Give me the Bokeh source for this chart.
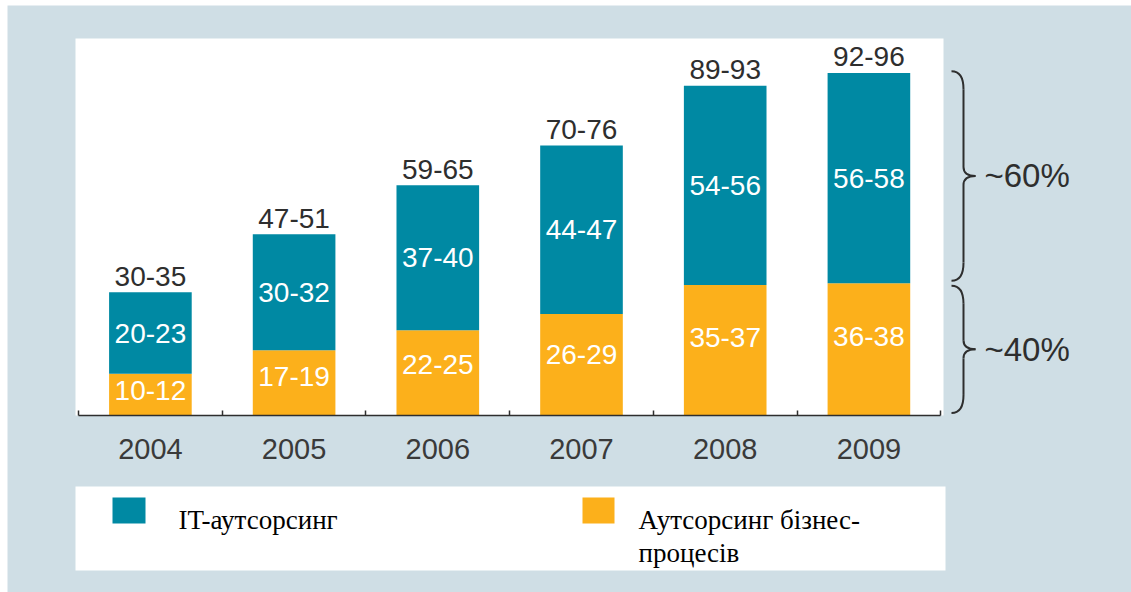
from bokeh.plotting import figure
from bokeh.models import Range1d, LinearAxis, FixedTicker, ColumnDataSource, Spacer
from bokeh.layouts import column, row
from bokeh.core.properties import value
from bokeh.embed import file_html
from bokeh.resources import INLINE

# ---------------- data ----------------
years = ["2004", "2005", "2006", "2007", "2008", "2009"]
bpo = [11.5, 18, 23.5, 28, 36, 36.5]        # Аутсорсинг бізнес-процесів
it = [22.5, 32, 40, 46.5, 55, 58]           # IT-аутсорсинг
bpo_labels = ["10-12", "17-19", "22-25", "26-29", "35-37", "36-38"]
it_labels = ["20-23", "30-32", "37-40", "44-47", "54-56", "56-58"]
total_labels = ["30-35", "47-51", "59-65", "70-76", "89-93", "92-96"]
share_labels = ["~60%", "~40%"]
legend_labels = ["IT-аутсорсинг", "Аутсорсинг бізнес-\nпроцесів"]

# ---------------- style ----------------
TEAL = "#0089A3"
ORANGE = "#FCB01B"
BG = "#CFDEE5"
INK = "#2E2E2E"
SANS = value("Liberation Sans")
SERIF = value("Liberation Serif")

# page geometry (pixels) -> data helpers for decorations
PX_PER_CAT = 143.7
CAT0 = 149.9
PX_PER_UNIT = 3.625
BASE = 415
LEFT, TOP, W, H = 7, 5, 1131, 592


def dx(px):
    return (px - CAT0) / PX_PER_CAT


def dy(py):
    return (BASE - py) / PX_PER_UNIT


p = figure(width=W - LEFT, height=H - TOP,
           x_range=Range1d(dx(LEFT), dx(W)), y_range=Range1d(dy(H), dy(TOP)),
           min_border=0, toolbar_location=None, output_backend="svg",
           x_axis_location=None, y_axis_location=None)
p.background_fill_color = BG
p.border_fill_color = BG
p.outline_line_color = None
p.grid.visible = False

# white plot panel and legend panel
p.quad(left=dx(75), right=dx(943), bottom=0, top=dy(38), fill_color="white", line_color=None)
p.quad(left=dx(75), right=dx(945), top=dy(486), bottom=dy(570), fill_color="white", line_color=None)

idx = list(range(len(years)))
total = [b + i for b, i in zip(bpo, it)]
src = ColumnDataSource(dict(
    x=idx, bpo=bpo, it=it,
    total_pos=[t + 16 / PX_PER_UNIT for t in total],
    bpo_mid=[b * 0.6 for b in bpo],
    it_mid=[b + i / 2 for b, i in zip(bpo, it)],
    bpo_labels=bpo_labels, it_labels=it_labels, total_labels=total_labels,
))

bars = p.vbar_stack(["bpo", "it"], x="x", width=0.575, source=src,
                    fill_color=[ORANGE, TEAL], line_color=None)

p.text(x="x", y="bpo_mid", text="bpo_labels", source=src, text_color="white",
       text_align="center", text_baseline="middle", text_font=SANS, text_font_size="28px")
p.text(x="x", y="it_mid", text="it_labels", source=src, text_color="white",
       text_align="center", text_baseline="middle", text_font=SANS, text_font_size="28px")
p.text(x="x", y="total_pos", text="total_labels", source=src, text_color=INK,
       text_align="center", text_baseline="middle",
       text_font=SANS, text_font_size="28px")

# category axis at value 0
ax = LinearAxis(
    ticker=FixedTicker(ticks=idx, minor_ticks=[i - 0.5 for i in range(len(years) + 1)]),
    fixed_location=0, bounds=(-0.5, len(years) - 0.5),
    major_label_overrides={i: y for i, y in enumerate(years)},
)
ax.major_tick_in = 0
ax.major_tick_out = 0
ax.minor_tick_in = 5
ax.minor_tick_out = 0
ax.axis_line_color = INK
ax.axis_line_width = 1.5
ax.minor_tick_line_color = INK
ax.minor_tick_line_width = 1.5
ax.major_label_text_font = "Liberation Sans"
ax.major_label_text_font_size = "29px"
ax.major_label_text_color = "#3A3A3A"
ax.major_label_standoff = 23
p.add_layout(ax, "below")


# braces for shares, spanning the 2009 stack
def brace(v_top, v_bot):
    ym = (v_top + v_bot) / 2
    re = 18 / PX_PER_UNIT
    rm = 9 / PX_PER_UNIT
    x0, x1, x2 = dx(951), dx(963), dx(975)
    p.quadratic(x0=[x0, x1, x2, x1], y0=[v_top, ym + rm, ym, v_bot + re],
                x1=[x1, x2, x1, x0], y1=[v_top - re, ym, ym - rm, v_bot],
                cx=[x1, x1, x1, x1], cy=[v_top, ym, ym, v_bot],
                line_color=INK, line_width=2)
    p.segment(x0=[x1, x1], y0=[v_top - re, ym - rm], x1=[x1, x1], y1=[ym + rm, v_bot + re],
              line_color=INK, line_width=2)
    return ym


gap = 0.7
m_top = brace(total[-1] + 0.5, bpo[-1] + gap)
m_bot = brace(bpo[-1] - gap, 0.7)
p.text(x=[dx(984), dx(984)], y=[m_top, m_bot], text=share_labels, text_color=INK,
       text_align="left", text_baseline="middle", text_font=SANS, text_font_size="33px")

# legend
p.quad(left=[dx(112), dx(582)], right=[dx(145), dx(614)], top=dy(497), bottom=dy(523),
       fill_color=[TEAL, ORANGE], line_color=None)
p.text(x=[dx(178), dx(638)], y=dy(504), text=legend_labels, text_color="black",
       text_align="left", text_baseline="top", text_line_height=1.1,
       text_font=SERIF, text_font_size="27px")

layout = column(Spacer(width=W, height=TOP), row(Spacer(width=LEFT, height=H - TOP), p))

open("out.html", "w").write(file_html(layout, INLINE))
